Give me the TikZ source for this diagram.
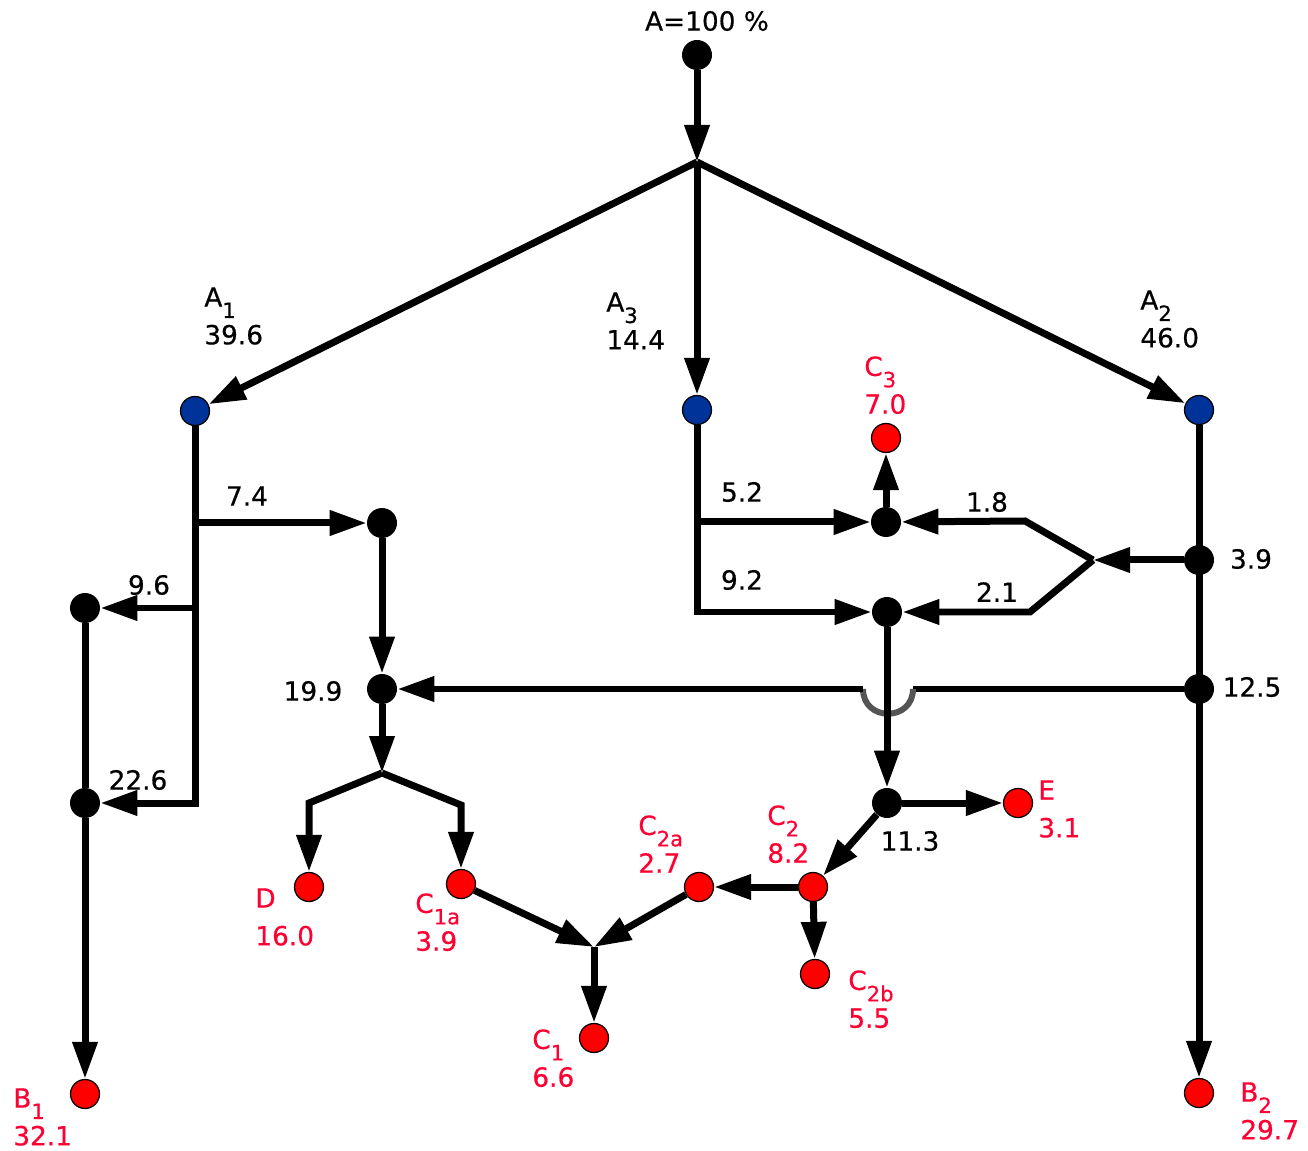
\documentclass[tikz,border=0pt]{standalone}
\usepackage{fontspec}
\setmainfont{DejaVu Sans}[FakeBold=0.5]
\usetikzlibrary{arrows.meta}
\definecolor{lblred}{RGB}{255,0,51}
\definecolor{nodeblue}{RGB}{0,51,153}
\definecolor{hopgray}{RGB}{85,85,85}
\newcommand\sbs[1]{\raisebox{-6.5pt}{\fontsize{12}{12}\selectfont #1}}
\pgfdeclarelayer{bg}
\pgfsetlayers{bg,main}
\begin{document}
\begin{tikzpicture}[x=0.02cm,y=-0.02cm,
 pipe/.style={line width=0.14cm},
 flow/.style={pipe,-{Triangle[length=0.74cm,width=0.48cm]}},
 hop/.style={line width=0.12cm,draw=hopgray},
 jn/.style={circle,fill=black,minimum size=0.6cm,inner sep=0},
 outn/.style={circle,fill=red,draw=black,line width=0.025cm,minimum size=0.58cm,inner sep=0},
 inn/.style={circle,fill=nodeblue,draw=black,line width=0.025cm,minimum size=0.58cm,inner sep=0},
 num/.style={font=\fontsize{15}{21.5}\selectfont,inner sep=0},
 lab/.style={num,align=left,anchor=north west},
 rlab/.style={lab,text=lblred}]
\useasboundingbox (0,0) rectangle (1308,1151);
% nodes
\node[jn] (top) at (697,55) {};
\coordinate (split) at (697,162);
\node[inn] (a1) at (195,411) {};
\node[inn] (a3) at (697,410) {};
\node[inn] (a2) at (1199,410) {};
\coordinate (b74) at (195,523);
\node[jn] (j74) at (382,523) {};
\coordinate (b96) at (195,608);
\node[jn] (j96) at (85,608) {};
\coordinate (b226) at (195,803);
\node[jn] (j226) at (85,803) {};
\node[outn] (B1) at (85,1094) {};
\node[jn] (j199) at (382,689) {};
\coordinate (sp2) at (382,773);
\coordinate (dc) at (309,803);
\coordinate (cc) at (461,805);
\node[outn] (D) at (309,887) {};
\node[outn] (C1a) at (461,884) {};
\coordinate (mg) at (594,947);
\node[outn] (C1) at (594,1038) {};
\coordinate (b52) at (697,522);
\coordinate (b92) at (697,612);
\node[jn] (j52) at (886,522) {};
\node[jn] (j92) at (887,612) {};
\node[outn] (C3) at (886,438) {};
\node[jn] (j39) at (1199,560) {};
\node[jn] (j125) at (1199,689) {};
\node[outn] (B2) at (1199,1093) {};
\coordinate (fk) at (1093,560);
\coordinate (uc) at (1025,521);
\coordinate (lc) at (1030,612);
\coordinate (hr) at (913,689);
\coordinate (hl) at (863,689);
\node[jn] (j113) at (887,803) {};
\node[outn] (E) at (1018,803) {};
\node[outn] (C2) at (813,887) {};
\node[outn] (C2a) at (699,887) {};
\node[outn] (C2b) at (815,974) {};
% connectors
\begin{pgfonlayer}{bg}
\draw[flow] (top) -- (split);
\draw[flow] (split) -- (a1);
\draw[flow] (split) -- (a3);
\draw[flow] (split) -- (a2);
\draw[flow] (a1) -- (b226) -- (j226);
\draw[flow] (b74) -- (j74);
\draw[flow] (b96) -- (j96);
\draw[pipe] (j96) -- (j226);
\draw[flow] (j226) -- (B1);
\draw[flow] (j74) -- (j199);
\draw[flow] (j199) -- (sp2);
\draw[flow] (sp2) -- (dc) -- (D);
\draw[flow] (sp2) -- (cc) -- (C1a);
\draw[flow] (C1a) -- (mg);
\draw[flow] (C2a) -- (mg);
\draw[flow] (mg) -- (C1);
\draw[flow] (a3) -- (b92) -- (j92);
\draw[flow] (b52) -- (j52);
\draw[flow] (j52) -- (C3);
\draw[flow] (a2) -- (B2);
\draw[flow] (j39) -- (fk);
\draw[flow] (fk) -- (uc) -- (j52);
\draw[flow] (fk) -- (lc) -- (j92);
\draw[pipe] (j125) -- (hr);
\draw[hop] (hr) .. controls (913,722) and (863,722) .. (hl);
\draw[flow] (hl) -- (j199);
\draw[flow] (j92) -- (j113);
\draw[flow] (j113) -- (E);
\draw[flow] (j113) -- (C2);
\draw[flow] (C2) -- (C2a);
\draw[flow] (C2) -- (C2b);
\end{pgfonlayer}
% labels
\node[num] (tA) at (707,21) {A=100 \%};
\node[lab] (tA1) at (204,287) {A\sbs{1}\\39.6};
\node[lab] (tA3) at (606,292) {A\sbs{3}\\14.4};
\node[lab] (tA2) at (1140,290) {A\sbs{2}\\46.0};
\node[rlab] (tC3) at (864,356) {C\sbs{3}\\7.0};
\node[rlab] (tB1) at (13,1088) {B\sbs{1}\\32.1};
\node[rlab] (tB2) at (1240,1082) {B\sbs{2}\\29.7};
\node[rlab] (tD) at (255,888) {D\\16.0};
\node[rlab] (tC1a) at (415,893) {C\sbs{1a}\\3.9};
\node[rlab] (tC1) at (532,1029) {C\sbs{1}\\6.6};
\node[rlab] (tC2a) at (638,815) {C\sbs{2a}\\2.7};
\node[rlab] (tC2) at (767,805) {C\sbs{2}\\8.2};
\node[rlab] (tC2b) at (848,970) {C\sbs{2b}\\5.5};
\node[rlab] (tE) at (1038,780) {E\\3.1};
\node[num] (n74) at (247,496) {7.4};
\node[num] (n96) at (149,585) {9.6};
\node[num] (n226) at (138,780) {22.6};
\node[num] (n199) at (313,691) {19.9};
\node[num] (n52) at (742,492) {5.2};
\node[num] (n92) at (742,580) {9.2};
\node[num] (n18) at (987,502) {1.8};
\node[num] (n21) at (997,592) {2.1};
\node[num] (n39) at (1251,559) {3.9};
\node[num] (n125) at (1252,687) {12.5};
\node[num] (n113) at (910,841) {11.3};
\end{tikzpicture}
\end{document}
